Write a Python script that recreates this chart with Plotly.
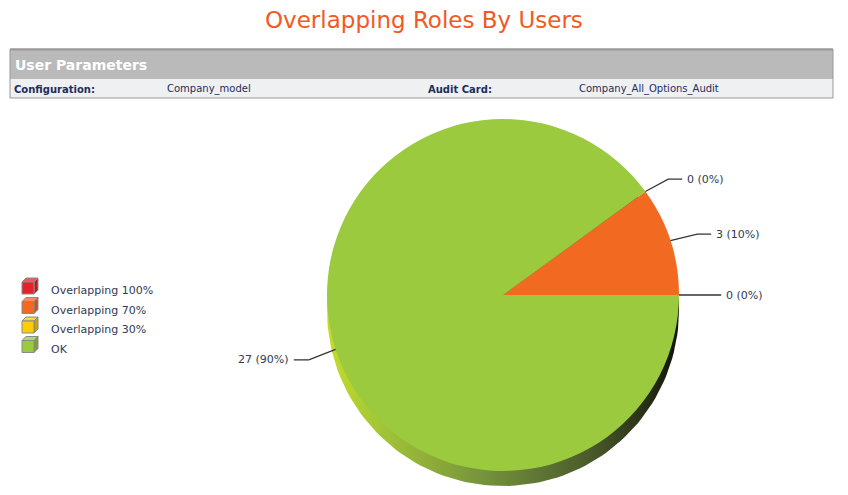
import math
import plotly.graph_objects as go

# ---------------- data ----------------
categories = ["Overlapping 100%", "Overlapping 70%", "Overlapping 30%", "OK"]
values = [0, 3, 0, 27]
slice_colors = ["#e52228", "#f26922", "#ffcc00", "#9bca3e"]

title_text = "Overlapping Roles By Users"
header_title = "User Parameters"
param_labels = ["Configuration:", "Audit Card:"]
param_values = ["Company_model", "Company_All_Options_Audit"]

# ---------------- geometry (pixels) ----------------
W, H = 848, 495
CX, CY, R = 503, 295, 176
DEPTH = 15
NAVY = "#1c2e5c"
LABEL_COL = "#2e3b55"


def lighten(hexc, f):
    h = hexc.lstrip("#")
    r, g, b = int(h[0:2], 16), int(h[2:4], 16), int(h[4:6], 16)
    if f >= 0:
        r, g, b = [int(c + (255 - c) * f) for c in (r, g, b)]
    else:
        r, g, b = [int(c * (1 + f)) for c in (r, g, b)]
    return "#%02x%02x%02x" % (r, g, b)


fig = go.Figure()

# 3D rim of the pie (shifted disc with horizontal gradient)
n = 181
rx = [CX + R * math.cos(2 * math.pi * i / (n - 1)) for i in range(n)]
ry = [CY + DEPTH + R * math.sin(2 * math.pi * i / (n - 1)) for i in range(n)]
fig.add_trace(go.Scatter(
    x=rx, y=ry, mode="lines", line=dict(width=0), fill="toself",
    fillgradient=dict(type="horizontal", start=CX - R, stop=CX + R,
                      colorscale=[[0, "#c4dc28"], [0.12, "#a9ca36"], [0.45, "#74923c"],
                                  [0.75, "#4a5a2c"], [0.92, "#252c14"], [1, "#0f120a"]]),
    hoverinfo="skip", showlegend=False))

# pie
fig.add_trace(go.Pie(
    labels=categories, values=values, sort=False, direction="counterclockwise",
    rotation=90, marker=dict(colors=slice_colors, line=dict(width=0)),
    textinfo="none", hoverinfo="label+value+percent", showlegend=False,
    domain=dict(x=[(CX - R) / W, (CX + R) / W], y=[1 - (CY + R) / H, 1 - (CY - R) / H])))

shapes = []
annotations = []

# labels with leader lines
total = sum(values)
cum = 0
for cat, v in zip(categories, values):
    mid = (cum + v / 2) / total * 2 * math.pi
    cum += v
    ex, ey = CX + R * math.cos(mid), CY - R * math.sin(mid)
    kx, ky = CX + 1.16 * R * math.cos(mid), CY - 1.12 * R * math.sin(mid)
    if math.sin(mid) < 0:
        ky += 4
    right = math.cos(mid) >= 0
    hx = kx + (14 if right else -15)
    shapes.append(dict(type="path", xref="x", yref="y", layer="above",
                       path=f"M{ex:.1f},{ey:.1f} L{kx:.1f},{ky:.1f} L{hx:.1f},{ky:.1f}",
                       line=dict(color="#333333", width=1.3)))
    pct = round(100 * v / total)
    annotations.append(dict(x=hx + (3 if right else -3), y=ky, xref="x", yref="y",
                            text=f"{v} ({pct}%)", showarrow=False,
                            xanchor="left" if right else "right", yanchor="middle",
                            font=dict(family="DejaVu Sans", size=11, color=LABEL_COL)))

# header box
shapes += [
    dict(type="rect", xref="x", yref="y", x0=10, x1=833, y0=49, y1=79,
         fillcolor="#bababa", line=dict(width=0), layer="below"),
    dict(type="rect", xref="x", yref="y", x0=10, x1=833, y0=79, y1=98,
         fillcolor="#eff0f2", line=dict(width=0), layer="below"),
    dict(type="rect", xref="x", yref="y", x0=10, x1=833, y0=49, y1=98,
         fillcolor="rgba(0,0,0,0)", line=dict(color="#999999", width=1), layer="below"),
    dict(type="line", xref="x", yref="y", x0=10, x1=833, y0=49.5, y1=49.5,
         line=dict(color="#999999", width=2), layer="below"),
]

annotations.append(dict(x=W / 2, y=20, xref="x", yref="y", text=title_text, showarrow=False,
                        xanchor="center", yanchor="middle",
                        font=dict(family="DejaVu Sans", size=23, color="#f15a24")))
annotations.append(dict(x=13, y=65, xref="x", yref="y", text=f"<b>{header_title}</b>",
                        showarrow=False, xanchor="left", yanchor="middle",
                        font=dict(family="DejaVu Sans", size=14, color="#ffffff")))
label_x = [12, 426]
value_x = [165, 577]
for lab, val, lx, vx in zip(param_labels, param_values, label_x, value_x):
    annotations.append(dict(x=lx, y=89, xref="x", yref="y", text=f"<b>{lab}</b>",
                            showarrow=False, xanchor="left", yanchor="middle",
                            font=dict(family="DejaVu Sans", size=10, color=NAVY)))
    annotations.append(dict(x=vx, y=89, xref="x", yref="y", text=val,
                            showarrow=False, xanchor="left", yanchor="middle",
                            font=dict(family="DejaVu Sans", size=10, color=NAVY)))

# legend with cube icons
for i, (cat, col) in enumerate(zip(categories, slice_colors)):
    ty = 290.5 + i * 19.5
    cy = ty - 4.5
    x0, x1 = 22, 34
    y0, y1 = cy - 4, cy + 8
    d = 4
    outline = dict(color="#8a8a8a", width=1)
    shapes.append(dict(type="path", xref="x", yref="y", layer="above",
                       path=f"M{x0},{y0} L{x0+d},{y0-d} L{x1+d},{y0-d} L{x1},{y0} Z",
                       fillcolor=lighten(col, 0.25), line=outline))
    shapes.append(dict(type="path", xref="x", yref="y", layer="above",
                       path=f"M{x1},{y0} L{x1+d},{y0-d} L{x1+d},{y1-d} L{x1},{y1} Z",
                       fillcolor=lighten(col, -0.2), line=outline))
    shapes.append(dict(type="rect", xref="x", yref="y", layer="above",
                       x0=x0, x1=x1, y0=y0, y1=y1, fillcolor=col, line=outline))
    annotations.append(dict(x=49, y=ty, xref="x", yref="y", text=cat, showarrow=False,
                            xanchor="left", yanchor="middle",
                            font=dict(family="DejaVu Sans", size=11, color=LABEL_COL)))

fig.update_layout(
    width=W, height=H, margin=dict(l=0, r=0, t=0, b=0),
    paper_bgcolor="white", plot_bgcolor="white",
    xaxis=dict(range=[0, W], visible=False, fixedrange=True),
    yaxis=dict(range=[H, 0], visible=False, fixedrange=True),
    shapes=shapes, annotations=annotations, showlegend=False,
)

fig.write_html("out.html", config={"displayModeBar": False},
               post_script="document.body.style.margin='0';document.body.style.overflow='hidden';")
